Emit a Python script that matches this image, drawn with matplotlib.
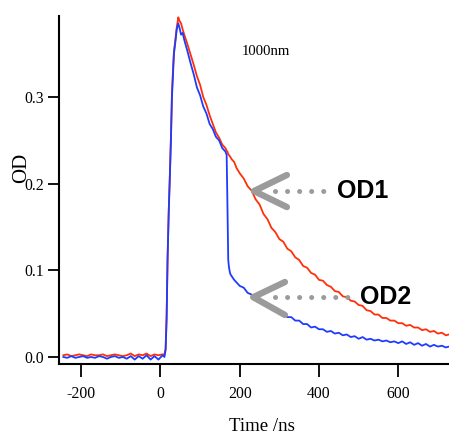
import matplotlib
matplotlib.use("Agg")
import matplotlib.pyplot as plt

# ---- data ----
time_ns = [
    -245, -235, -225, -215, -205, -195, -185, -175, -165, -155, -145, -135, -125,
    -115, -105, -95, -85, -75, -65, -55, -45, -35, -25, -15, -5, 5,
    10, 13, 15.5, 18, 21, 24, 26.5, 29, 32, 34, 38, 41, 45, 48, 52, 56, 60,
    68, 76, 84, 92, 100, 108, 116, 124, 132, 140, 148, 156, 164,
    167, 169, 171, 173, 176, 180, 186, 192, 200,
    210, 220, 230, 240, 250, 260, 270, 280, 290, 300, 310, 320, 330, 340, 350,
    360, 370, 380, 390, 400, 410, 420, 430, 440, 450, 460, 470, 480, 490, 500,
    510, 520, 530, 540, 550, 560, 570, 580, 590, 600, 610, 620, 630, 640, 650,
    660, 670, 680, 690, 700, 710, 720, 728,
]

od1_red = [
    0.002, 0.003, 0.001, 0.002, 0.003, 0.002, 0.001, 0.003, 0.002, 0.002, 0.003, 0.001, 0.002,
    0.003, 0.002, 0.001, 0.002, 0.004, 0.001, 0.003, 0.002, 0.004, 0.001, 0.003, 0.002, 0.003,
    0.003, 0.010, 0.045, 0.115, 0.170, 0.215, 0.255, 0.305, 0.335, 0.352, 0.368, 0.380, 0.392, 0.388, 0.385, 0.378, 0.372,
    0.361, 0.349, 0.337, 0.324, 0.314, 0.300, 0.291, 0.279, 0.269, 0.259, 0.253, 0.245, 0.241,
    0.238, 0.237, 0.234, 0.233, 0.231, 0.228, 0.225, 0.218, 0.212,
    0.206, 0.197, 0.192, 0.182, 0.176, 0.165, 0.159, 0.149, 0.144, 0.136, 0.133, 0.125, 0.122, 0.115, 0.112,
    0.105, 0.103, 0.097, 0.095, 0.089, 0.088, 0.083, 0.081, 0.076, 0.075, 0.070, 0.069, 0.065, 0.064, 0.060,
    0.059, 0.054, 0.053, 0.049, 0.049, 0.045, 0.045, 0.042, 0.042, 0.039, 0.039, 0.036, 0.037, 0.034, 0.034,
    0.031, 0.032, 0.029, 0.030, 0.027, 0.028, 0.025, 0.026,
]

od2_blue = [
    0.000, -0.001, 0.001, -0.001, 0.000, 0.001, -0.001, 0.000, -0.001, 0.001, 0.000, -0.002, 0.000,
    0.001, -0.001, 0.000, -0.002, 0.001, -0.003, 0.001, -0.002, 0.002, -0.003, 0.001, -0.003, 0.002,
    0.000, 0.008, 0.045, 0.115, 0.170, 0.212, 0.252, 0.300, 0.330, 0.350, 0.365, 0.378, 0.385, 0.380, 0.372, 0.374, 0.366,
    0.353, 0.339, 0.326, 0.311, 0.302, 0.289, 0.281, 0.269, 0.263, 0.254, 0.250, 0.241, 0.237,
    0.233, 0.175, 0.112, 0.103, 0.096, 0.093, 0.089, 0.086, 0.082,
    0.080, 0.074, 0.072, 0.066, 0.065, 0.060, 0.059, 0.055, 0.054, 0.050, 0.050, 0.046, 0.046, 0.042, 0.042,
    0.038, 0.038, 0.034, 0.035, 0.032, 0.032, 0.029, 0.030, 0.027, 0.028, 0.025, 0.026, 0.023, 0.024, 0.021,
    0.023, 0.020, 0.021, 0.019, 0.020, 0.018, 0.019, 0.017, 0.018, 0.016, 0.018, 0.015, 0.017, 0.014, 0.016,
    0.013, 0.015, 0.012, 0.014, 0.012, 0.013, 0.011, 0.012,
]

x_ticks = [-200, 0, 200, 400, 600]
y_ticks = [0.0, 0.1, 0.2, 0.3]
y_tick_labels = ["0.0", "0.1", "0.2", "0.3"]

RED = "#ff2f0a"
BLUE = "#1e3cff"
GRAY = "#9b9b9b"
SERIF = ["Liberation Serif", "DejaVu Serif"]
SANS = ["Liberation Sans", "DejaVu Sans"]

fig = plt.figure(figsize=(4.49, 4.34), dpi=100)
ax = fig.add_axes([59 / 449, 70 / 434, 390 / 449, 348 / 434])

ax.plot(time_ns, od1_red, color=RED, lw=1.3, zorder=2)
ax.plot(time_ns, od2_blue, color=BLUE, lw=1.3, zorder=3)

ax.set_xlim(-256, 728)
ax.set_ylim(-0.0081, 0.3935)

ax.set_xticks(x_ticks)
ax.set_xticklabels([str(v) for v in x_ticks], family=SERIF, fontsize=11.3)
ax.set_yticks(y_ticks)
ax.set_yticklabels(y_tick_labels, family=SERIF, fontsize=11.3)
ax.tick_params(axis="x", direction="out", length=9, width=1.3, pad=7)
ax.tick_params(axis="y", direction="out", length=8, width=1.3, pad=3)

for s in ("top", "right"):
    ax.spines[s].set_visible(False)
for s in ("left", "bottom"):
    ax.spines[s].set_linewidth(1.5)

ax.set_xlabel("Time /ns", family=SERIF, fontsize=13.5)
ax.xaxis.set_label_coords((261.5 - 59) / 390, (364 - 418) / 348)
ax.set_ylabel("OD", family=SERIF, fontsize=15)
ax.yaxis.set_label_coords((31 - 59) / 390, (364 - 168) / 348)

ax.text(206, 0.352, "1000nm", family=SERIF, fontsize=10.6, va="center", ha="left")

# chevrons and dotted leaders
def marker_arrow(vertex, arm_t, arm_top, arm_bot, dot_start, dot_end, label_x, label):
    vx, vy = vertex
    ax.plot([arm_t, vx, arm_t], [arm_top, vy, arm_bot], color=GRAY, lw=4.6,
            solid_capstyle="round", solid_joinstyle="round", zorder=5)
    ax.plot([dot_start, dot_end], [vy, vy], color=GRAY, lw=3.6,
            linestyle=(0, (0.01, 2.4)), dash_capstyle="round", zorder=5)
    ax.text(label_x, vy, label, family=SANS, fontweight="bold", fontsize=18,
            va="center", ha="left", zorder=6)

marker_arrow((236, 0.1915), 319, 0.210, 0.173, 289, 440, 446, "OD1")
marker_arrow((234, 0.069), 314, 0.0865, 0.0485, 289, 496, 503, "OD2")

fig.savefig("out.png", dpi=100)
